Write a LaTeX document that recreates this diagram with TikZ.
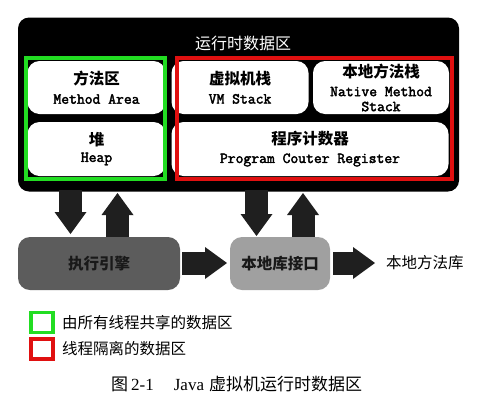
\documentclass[tikz,border=0pt]{standalone}
\usepackage{fontspec}
\setmainfont{Liberation Serif}
\newfontfamily\cjk{Noto Sans CJK SC}
\newfontfamily\mono{Latin Modern Mono}[AutoFakeBold=2.5]
\usetikzlibrary{arrows.meta}
\definecolor{engine}{HTML}{5C5C5C}
\definecolor{iface}{HTML}{A0A0A0}
\definecolor{shared}{HTML}{22DD22}
\definecolor{isolated}{HTML}{E01010}
\newcommand{\zhb}{\cjk\bfseries\fontsize{15.5}{16}\selectfont}
\newcommand{\zh}{\cjk\fontsize{15.5}{19}\selectfont}
\newcommand{\mn}{\mono\bfseries\fontsize{15.2}{16}\selectfont}
\begin{document}
\begin{tikzpicture}[x=1pt,y=-1pt,
  wbox/.style={fill=white, rounded corners=12pt, align=center, inner sep=0pt,
    font=\fontsize{13}{16}\selectfont},
  gbox/.style={rounded corners=12pt, inner sep=0pt, font=\zhb, text=black!90},
  blockarr/.style={line width=23pt, draw=black!88,
    -{Triangle[width=32pt,length=22pt,line width=0pt]}},
  legendbox/.style={draw, line width=3.5pt, minimum width=22pt, minimum height=20pt, inner sep=0pt},
  plain/.style={inner sep=0pt, font=\zh}
]
\useasboundingbox[fill=white] (0,0) rectangle (486,410);

% runtime data area
\node[fill=black, rounded corners=11pt, minimum width=441pt, minimum height=174pt, inner sep=0pt] (rt) at (238.5,104.5) {};
\node[plain, text=white, font=\cjk\fontsize{16}{19}\selectfont] (title) at (243,43) {运行时数据区};

% inner boxes
\node[wbox, minimum width=138pt, minimum height=53pt] (ma) at (96.5,87.5)
  {{\zhb 方法区}\\[3pt]{\mn Method Area}};
\node[wbox, minimum width=138pt, minimum height=54pt] (heap) at (96.5,149)
  {{\zhb 堆}\\[0pt]{\mn Heap}};
\node[wbox, minimum width=137pt, minimum height=53pt] (vm) at (240,87.5)
  {{\zhb 虚拟机栈}\\[3pt]{\mn VM Stack}};
\node[wbox, minimum width=136pt, minimum height=53pt] (nms) at (381,87.5)
  {{\zhb 本地方法栈}\\[3pt]{\mn Native Method}\\[-1pt]{\mn Stack}};
\node[wbox, minimum width=277pt, minimum height=54pt] (pc) at (310,149)
  {{\zhb 程序计数器}\\[2pt]{\mn Program Couter Register}};

% grouping frames
\draw[shared, line width=4pt] (26.3,58) rectangle (165,178.5);
\draw[isolated, line width=4pt] (177,58) rectangle (452,179);

% engine and native interface
\node[gbox, fill=engine, minimum width=162pt, minimum height=53pt] (eng) at (99,263.5) {执行引擎};
\node[gbox, fill=iface, minimum width=100pt, minimum height=53pt] (ni) at (280,263.5) {本地库接口};
\node[plain, anchor=west] (lib) at (386,263) {本地方法库};

% block arrows
\coordinate (d1s) at (70.5,190);  \coordinate (d1e) at (70.5,234);
\coordinate (u1s) at (117.5,237); \coordinate (u1e) at (117.5,193);
\coordinate (d2s) at (256.5,190); \coordinate (d2e) at (256.5,236);
\coordinate (u2s) at (303,237);   \coordinate (u2e) at (303,193);
\coordinate (r1s) at (182,263);   \coordinate (r1e) at (227,263);
\coordinate (r2s) at (333,263);   \coordinate (r2e) at (375,263);
\draw[blockarr] (d1s) -- (d1e);
\draw[blockarr] (u1s) -- (u1e);
\draw[blockarr] (d2s) -- (d2e);
\draw[blockarr] (u2s) -- (u2e);
\draw[blockarr] (r1s) -- (r1e);
\draw[blockarr] (r2s) -- (r2e);

% legend
\node[legendbox, draw=shared] (lg1) at (42,322.5) {};
\node[legendbox, draw=isolated] (lg2) at (42,349) {};
\node[plain, anchor=west] (lt1) at (62,323) {由所有线程共享的数据区};
\node[plain, anchor=west] (lt2) at (62,349) {线程隔离的数据区};

% caption
\node[inner sep=0pt, anchor=west, font=\fontsize{17}{20}\selectfont] (cap) at (111,384)
  {{\cjk 图}\hspace{3pt}2-1\hspace{20pt}Java\hspace{5pt}{\cjk 虚拟机运行时数据区}};
\end{tikzpicture}
\end{document}
